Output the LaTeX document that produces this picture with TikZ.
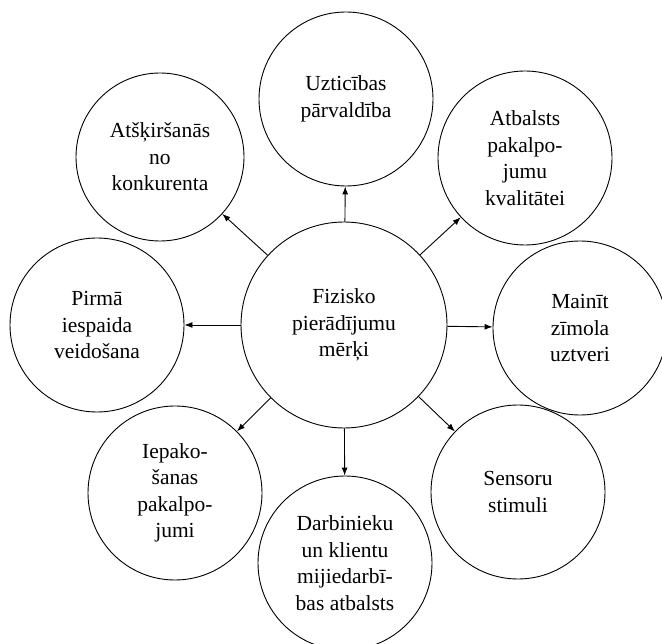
\documentclass[tikz,border=0pt]{standalone}
\usepackage{fontspec}
\setmainfont{Liberation Serif}
\usetikzlibrary{arrows.meta}

\tikzset{
    goal/.style={draw, circle, line width=0.9pt, minimum size=174pt, inner sep=0pt,
        align=center, font=\fontsize{21.5}{26.5}\selectfont},
    core/.style={goal, minimum size=206pt}
}

\begin{document}
\begin{tikzpicture}[x=1pt, y=-1pt, >={Latex[length=8pt,width=6pt]}, line width=0.9pt]
    \useasboundingbox (0, 0) rectangle (662, 644);

    % centrs
    \node[core] (F) at (344, 325) {Fizisko\\pierādījumu\\mērķi};

    % mērķi ap centru
    \node[goal] (U) at (346, 99) {Uzticības\\pārvaldība};
    \node[goal, minimum size=168pt] (A) at (160, 157) {Atšķiršanās\\no\\konkurenta};
    \node[goal] (B) at (525, 158) {Atbalsts\\pakalpo-\\jumu\\kvalitātei};
    \node[goal] (P) at (97, 325) {Pirmā\\iespaida\\veidošana};
    \node[goal] (M) at (580, 328) {Mainīt\\zīmola\\uztveri};
    \node[goal] (I) at (175, 493) {Iepako-\\šanas\\pakalpo-\\jumi};
    \node[goal] (S) at (518, 492) {Sensoru\\stimuli};
    \node[goal] (D) at (345, 563) {Darbinieku\\un klientu\\mijiedarbī-\\bas atbalsts};

    % bultas
    \foreach \t in {U, A, B, P, M, I, S, D}
        \draw[->] (F) -- (\t);
\end{tikzpicture}
\end{document}
